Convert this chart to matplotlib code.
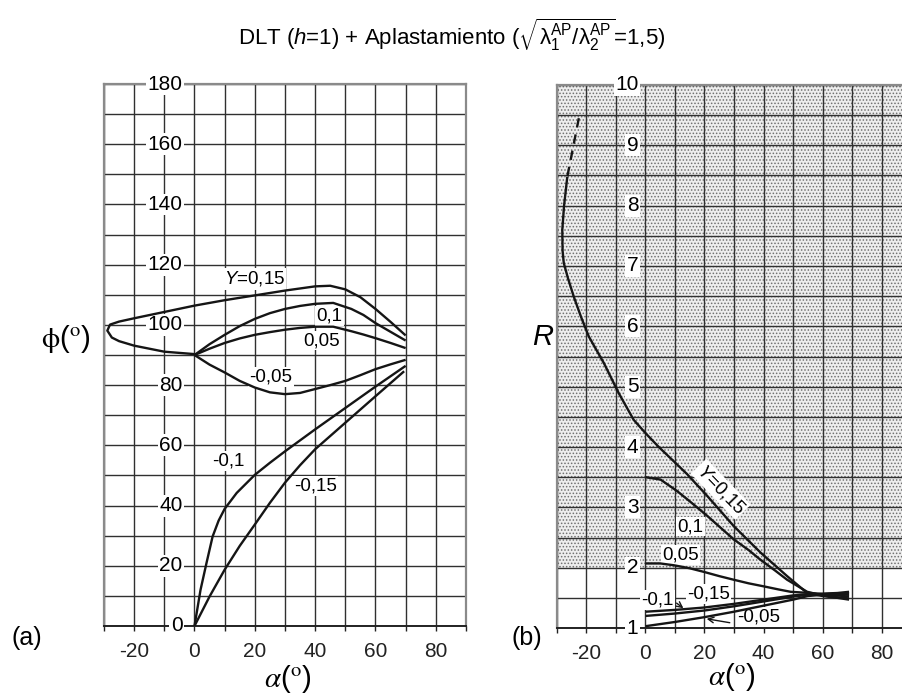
import numpy as np
import matplotlib
matplotlib.use('Agg')
import matplotlib.pyplot as plt

plt.rcParams['font.family'] = 'Liberation Sans'
plt.rcParams['mathtext.fontset'] = 'custom'
plt.rcParams['mathtext.rm'] = 'Liberation Sans'
plt.rcParams['mathtext.it'] = 'Liberation Sans:italic'
plt.rcParams['axes.unicode_minus'] = False
plt.rcParams['hatch.linewidth'] = 0.7

# ---- (a) phi(alpha) ----
a_p15 = [0, -10, -20, -25, -27.4, -28.9, -28, -25, -20, -10, 0, 10, 20, 30, 40, 45, 50, 55, 60, 65, 70]
phi_p15 = [90.3, 91.1, 93.1, 94.6, 95.8, 98.1, 100.1, 101.1, 102.2, 104.3, 106.4, 108.2, 109.8, 111.4, 112.8, 113, 111.8, 109.2, 105.3, 101, 96.5]
a_p10 = [0, 5, 10, 15, 20, 25, 30, 35, 40, 46, 52, 56, 60, 65, 70]
phi_p10 = [90, 93.6, 96.7, 99.6, 102, 103.9, 105.3, 106.3, 107, 107.3, 105.3, 103.3, 100.6, 97.7, 94.8]
a_p05 = [0, 5, 10, 15, 20, 25, 30, 35, 40, 46, 52, 56, 60, 65, 70]
phi_p05 = [90, 92.1, 94, 95.5, 96.7, 97.6, 98.4, 99, 99.4, 99.4, 97.9, 96.8, 95.6, 94, 92.3]
a_m05 = [0, 5, 10, 15, 20, 25, 30, 35, 40, 45, 50, 55, 60, 65, 70]
phi_m05 = [90, 86.8, 84.2, 81.4, 79.2, 77.6, 77, 77.4, 78.7, 80, 81.4, 83.3, 85.3, 86.9, 88.4]
a_m10 = [0, 2, 4, 6, 8, 10, 14, 20, 25, 30, 40, 50, 60, 70]
phi_m10 = [0, 12, 21, 29.7, 35, 38.9, 44.2, 50.2, 54.2, 58, 65.3, 72.4, 79.5, 86.4]
a_m15 = [0, 5, 10, 15, 20, 25, 30, 35, 40, 50, 60, 69.5]
phi_m15 = [0, 9.8, 18.7, 26.6, 33.7, 40.9, 47.6, 53.4, 58.7, 67.5, 76.3, 84.6]

# ---- (b) R(alpha) ----
a_r15_dash = [-22.6, -24.6, -26.5]
r_r15_dash = [9.45, 8.95, 8.48]
a_r15 = [-26.5, -27.6, -28.2, -28.1, -27.7, -26.3, -24.3, -21.8, -19.2, -14.1, -9.05, -4.0, 0, 4.5, 9.0, 14.1, 20.9, 29.9, 39.0, 48.0, 54.8, 60, 65, 69]
r_r15 = [8.48, 8.0, 7.6, 7.25, 7.05, 6.8, 6.49, 6.15, 5.83, 5.39, 4.89, 4.45, 4.23, 4.0, 3.79, 3.55, 3.19, 2.69, 2.25, 1.86, 1.58, 1.53, 1.5, 1.47]
a_r10 = [0, 5.1, 10.7, 15.5, 20.9, 25.5, 29.9, 35, 39, 44, 48, 54.8, 60, 65, 69]
r_r10 = [3.5, 3.46, 3.27, 3.08, 2.86, 2.66, 2.47, 2.29, 2.13, 1.95, 1.8, 1.6, 1.54, 1.51, 1.49]
a_r05 = [0, 5, 9.6, 15, 19.8, 25, 29.9, 35, 40.1, 45, 49.2, 55.9, 60, 65, 69]
r_r05 = [2.07, 2.07, 2.04, 1.99, 1.93, 1.86, 1.8, 1.74, 1.69, 1.64, 1.6, 1.58, 1.56, 1.54, 1.52]
a_rm05 = [0, 10, 20, 30, 40, 50, 55, 60, 65, 69]
r_rm05 = [1.03, 1.1, 1.18, 1.27, 1.37, 1.47, 1.53, 1.55, 1.56, 1.55]
a_rm10 = [0, 10, 20, 30, 40, 50, 55, 60, 65, 69]
r_rm10 = [1.27, 1.3, 1.34, 1.4, 1.47, 1.54, 1.56, 1.57, 1.58, 1.6]
a_rm15 = [0, 10, 20, 30, 40, 50, 55, 60, 65, 69]
r_rm15 = [1.2, 1.24, 1.29, 1.36, 1.44, 1.52, 1.55, 1.56, 1.57, 1.58]

xticks = list(range(-30, 91, 10))
xlabels = [str(v) if v % 20 == 0 else '' for v in xticks]
phi_ticks = list(range(0, 181, 20))
r_ticks = list(range(1, 11))

line_kw = dict(color='#151515', lw=1.7, zorder=5, solid_capstyle='butt')
box = dict(facecolor='white', edgecolor='none', pad=1.0)
grid_c = '#303030'

fig = plt.figure(figsize=(9.02, 6.95), dpi=100)


def frame(ax):
    ax.set_xticks(xticks)
    ax.set_xticklabels(xlabels, fontsize=15)
    ax.tick_params(axis='x', length=3.5, width=1, direction='out', pad=8, colors='#222222')
    ax.tick_params(axis='y', length=0, labelleft=False)
    ax.grid(True, color=grid_c, lw=1.0, zorder=1)
    ax.set_axisbelow(True)
    for s in ('left', 'top', 'right'):
        ax.spines[s].set_color('#8a8a8a')
        ax.spines[s].set_linewidth(1.6)
    ax.spines['bottom'].set_color('#222222')
    ax.spines['bottom'].set_linewidth(1.4)


# panel (a)
ax1 = fig.add_axes([0.1153, 0.0993, 0.4013, 0.7798])
ax1.set_xlim(-30, 90)
ax1.set_ylim(0, 180)
ax1.set_yticks(range(0, 181, 10))
frame(ax1)
for v in phi_ticks:
    ax1.text(-4, v, str(v), ha='right', va='center', fontsize=15, bbox=box, zorder=3)

ax1.plot(a_p15, phi_p15, **line_kw)
ax1.plot(a_p10, phi_p10, **line_kw)
ax1.plot(a_p05, phi_p05, **line_kw)
ax1.plot(a_m05, phi_m05, **line_kw)
ax1.plot(a_m10, phi_m10, **line_kw)
ax1.plot(a_m15, phi_m15, **line_kw)

lab = dict(fontsize=13.5, ha='center', va='center', bbox=box, zorder=3)
ax1.text(19.8, 115.3, r'$Y$=0,15', **lab)
ax1.text(44.8, 103, '0,1', **lab)
ax1.text(42, 94.8, '0,05', **lab)
ax1.text(25.3, 82.7, '-0,05', **lab)
ax1.text(11.3, 54.8, '-0,1', **lab)
ax1.text(40, 46.4, '-0,15', **lab)

# panel (b)
ax2 = fig.add_axes([0.6175, 0.0964, 0.3925, 0.7813])
ax2.set_xlim(-30, 90)
ax2.set_ylim(1, 10)
ax2.set_yticks(np.arange(1, 10.01, 0.5))
frame(ax2)
ax2.axhspan(2, 10, facecolor='#ededed', edgecolor='#707070', hatch='.....', lw=0, zorder=0)
for v in r_ticks:
    ax2.text(-2.4, v, str(v), ha='right', va='center', fontsize=15, bbox=box, zorder=3)

ax2.plot(a_r15_dash, r_r15_dash, color='#151515', lw=1.7, ls=(0, (4, 3)), zorder=5)
ax2.plot(a_r15, r_r15, **line_kw)
ax2.plot(a_r10, r_r10, **line_kw)
ax2.plot(a_r05, r_r05, **line_kw)
ax2.plot(a_rm05, r_rm05, **line_kw)
ax2.plot(a_rm10, r_rm10, **line_kw)
ax2.plot(a_rm15, r_rm15, **line_kw)

ax2.text(25.5, 3.3, r'$Y$=0,15', rotation=-46, **lab)
ax2.text(15.3, 2.68, '0,1', **lab)
ax2.text(11.9, 2.21, '0,05', **lab)
ax2.text(4.0, 1.46, '-0,1', **lab)
ax2.text(21.4, 1.56, '-0,15', **lab)
ax2.text(38.5, 1.18, '-0,05', **lab)
ax2.annotate('', xy=(13.6, 1.30), xytext=(9.8, 1.44),
             arrowprops=dict(arrowstyle='->', lw=1.0, color='#151515'), zorder=6)
ax2.annotate('', xy=(19.8, 1.16), xytext=(29.5, 1.08),
             arrowprops=dict(arrowstyle='->', lw=1.0, color='#151515'), zorder=6)

# titles and axis names
fig.text(0.501, 0.9496,
         r'DLT ($h$=1) + Aplastamiento ($\sqrt{\mathrm{\lambda}_1^{\mathrm{AP}}/\mathrm{\lambda}_2^{\mathrm{AP}}}$=1,5)',
         ha='center', va='center', fontsize=16)
fig.text(0.0732, 0.512, r'$\mathrm{\phi}$($^{\mathrm{o}}$)', ha='center', va='center', fontsize=21,
         math_fontfamily='stix')
fig.text(0.602, 0.515, r'$R$', ha='center', va='center', fontsize=21)
fig.text(0.3187, 0.023, r'$\alpha$($^{\mathrm{o}}$)', ha='center', va='center', fontsize=21,
         math_fontfamily='stix')
fig.text(0.8115, 0.026, r'$\alpha$($^{\mathrm{o}}$)', ha='center', va='center', fontsize=21,
         math_fontfamily='stix')
fig.text(0.030, 0.082, '(a)', ha='center', va='center', fontsize=18)
fig.text(0.584, 0.082, '(b)', ha='center', va='center', fontsize=18)

fig.savefig('out.png', dpi=100)
